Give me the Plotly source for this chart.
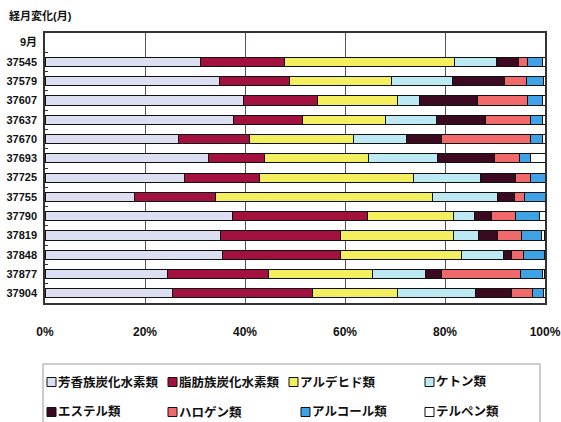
import plotly.graph_objects as go

# ---------------- data ----------------
categories = ["9月", "37545", "37579", "37607", "37637", "37670", "37693", "37725",
              "37755", "37790", "37819", "37848", "37877", "37904"]

aromatic  = [None, 31.1, 34.9, 39.6, 37.7, 26.6, 32.6, 27.8, 17.8, 37.4, 35.0, 35.4, 24.4, 25.4]
aliphatic = [None, 16.7, 13.9, 14.9, 13.7, 14.2, 11.2, 15.1, 16.2, 27.0, 24.1, 23.6, 20.3, 28.1]
aldehyde  = [None, 34.0, 20.4, 16.0, 16.7, 20.8, 20.8, 30.8, 43.5, 17.2, 22.6, 24.3, 20.8, 17.0]
ketone    = [None,  8.4, 12.2,  4.3, 10.1, 10.7, 13.9, 13.4, 12.9,  4.3,  5.0,  8.4, 10.5, 15.6]
ester     = [None,  4.4, 10.4, 11.7,  9.8,  7.0, 11.3,  7.0,  3.4,  3.4,  3.8,  1.6,  3.3,  7.1]
halogen   = [None,  1.8,  4.5, 10.0,  9.0, 17.8,  5.0,  2.9,  2.1,  4.8,  4.8,  2.3, 15.7,  4.3]
alcohol   = [None,  3.1,  3.3,  3.0,  2.5,  2.4,  2.3,  3.0,  4.1,  4.7,  3.9,  4.2,  4.4,  2.1]
terpene   = [None,  0.5,  0.4,  0.5,  0.5,  0.5,  2.9,  0.0,  0.0,  1.2,  0.7,  0.1,  0.5,  0.4]

series_names = ["芳香族炭化水素類", "脂肪族炭化水素類", "アルデヒド類", "ケトン類",
                "エステル類", "ハロゲン類", "アルコール類", "テルペン類"]
series_values = [aromatic, aliphatic, aldehyde, ketone, ester, halogen, alcohol, terpene]
series_colors = ["#DCDFF2", "#A3123E", "#F4EF5E", "#BDE9F2",
                 "#3C0A20", "#F06A6C", "#3DA3E6", "#FFFFFF"]

x_ticks = [0, 20, 40, 60, 80, 100]
title_text = "経月変化(月)"

# ---------------- layout constants ----------------
W, H = 561, 422
ML, MR, MT, MB = 45, 16, 33, 119
PW, PH = W - ML - MR, H - MT - MB
FONT = "Liberation Sans, Noto Sans CJK JP, sans-serif"


def px(x):
    return (x - ML) / PW


def py(y):
    return (H - MB - y) / PH


fig = go.Figure()
for name, vals, col in zip(series_names, series_values, series_colors):
    fig.add_trace(go.Bar(
        y=categories, x=vals, name=name, orientation="h",
        marker=dict(color=col, line=dict(color="#111111", width=1)),
        showlegend=False,
    ))

# legend drawn as swatches + text (positions in pixels)
legend_slots = [(47, 382), (168, 382), (289, 382), (425, 382),
                (47, 412), (168, 412), (301, 412), (425, 412)]
shapes = []
annotations = []
SW = 9
for (lx, ly), name, col in zip(legend_slots, series_names, series_colors):
    shapes.append(dict(type="rect", xref="paper", yref="paper",
                       x0=px(lx), x1=px(lx + SW), y0=py(ly + SW / 2), y1=py(ly - SW / 2),
                       fillcolor=col, line=dict(color="#111111", width=1)))
    annotations.append(dict(xref="paper", yref="paper", x=px(lx + SW), y=py(ly),
                            xanchor="left", yanchor="middle", showarrow=False,
                            text=name, font=dict(family=FONT, size=12.5, color="#111111", weight="bold")))
# legend frame
shapes.append(dict(type="rect", xref="paper", yref="paper",
                   x0=px(43), x1=px(540), y0=py(440), y1=py(364),
                   fillcolor="rgba(0,0,0,0)", line=dict(color="#9a9a9a", width=1)))

annotations.append(dict(xref="paper", yref="paper", x=px(7), y=py(15),
                        xanchor="left", yanchor="middle", showarrow=False,
                        text=title_text, font=dict(family=FONT, size=11, color="#111111", weight="bold")))

fig.update_layout(
    width=W, height=H,
    margin=dict(l=ML, r=MR, t=MT, b=MB, pad=0, autoexpand=False),
    paper_bgcolor="white", plot_bgcolor="white",
    barmode="stack", bargap=0.53,
    font=dict(family=FONT, size=11, color="#111111", weight="bold"),
    shapes=shapes, annotations=annotations,
    xaxis=dict(range=[0, 100], tickvals=x_ticks, ticktext=[f"{v}%" for v in x_ticks],
               showgrid=True, gridcolor="#5e4e5e", gridwidth=1,
               showline=True, mirror=True, linecolor="#333333", linewidth=1.5,
               ticks="", zeroline=False, tickfont=dict(size=12),
               ticklabelstandoff=17, fixedrange=True, automargin=False),
    yaxis=dict(type="category", categoryorder="array", categoryarray=categories,
               autorange="reversed", showgrid=False,
               showline=True, mirror=True, linecolor="#333333", linewidth=1.5,
               ticks="inside", ticklen=3, tickcolor="#333333", tickson="boundaries",
               ticklabelstandoff=4, tickfont=dict(size=11), fixedrange=True, automargin=False),
)

fig.write_html("out.html")
